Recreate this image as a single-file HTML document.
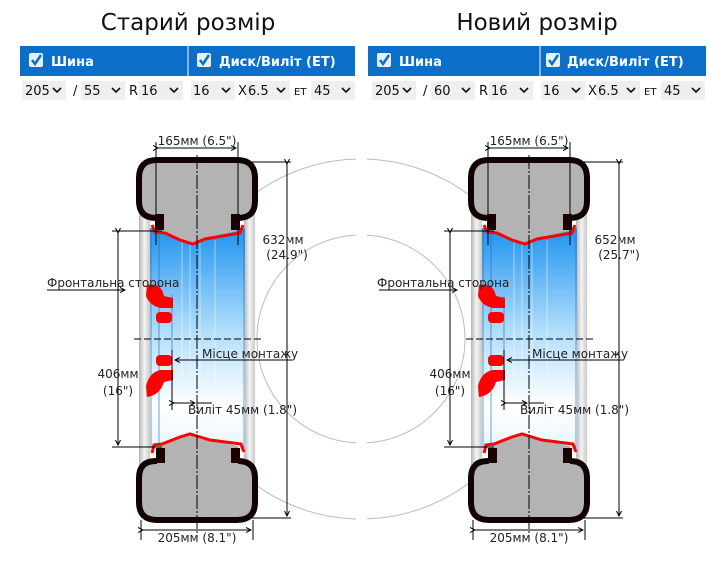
<!DOCTYPE html>
<html><head><meta charset="utf-8"><style>
body{margin:0;background:#fff;width:723px;height:561px;overflow:hidden;font-family:"Liberation Sans","DejaVu Sans",sans-serif}
svg text{font-family:"DejaVu Sans","Liberation Sans",sans-serif}
</style></head><body>
<svg width="723" height="561" viewBox="0 0 723 561" xmlns="http://www.w3.org/2000/svg">
<defs>
<linearGradient id="blue" x1="0" y1="0" x2="0" y2="1">
<stop offset="0" stop-color="#1f93ef"/><stop offset="0.45" stop-color="#aedcfb"/><stop offset="0.8" stop-color="#ffffff"/><stop offset="1" stop-color="#e8f4ff"/></linearGradient>
<linearGradient id="side" x1="0" y1="0" x2="1" y2="0">
<stop offset="0" stop-color="#b5b5b5"/><stop offset="0.5" stop-color="#f4f4f4"/><stop offset="1" stop-color="#c8c8c8"/></linearGradient>
<marker id="ar" markerWidth="6" markerHeight="6" refX="5" refY="3" orient="auto"><path d="M0,0.5 L5,3 L0,5.5" fill="none" stroke="#000" stroke-width="1"/></marker>
<g id="wheel">
 <rect x="139" y="200" width="11" height="280" fill="url(#side)"/>
 <rect x="244" y="200" width="11" height="280" fill="url(#side)"/>
 <rect x="150" y="228" width="95" height="222" fill="url(#blue)"/>
 <g stroke="#1a6ec8" stroke-width="0.8" opacity="0.8">
  <line x1="151" y1="230" x2="151" y2="448"/><line x1="244" y1="230" x2="244" y2="448"/>
  <line x1="159" y1="235" x2="159" y2="445"/><line x1="172" y1="295" x2="172" y2="390"/>
 </g>
 <g stroke="#fff" stroke-width="0.8" opacity="0.6">
  <line x1="182" y1="240" x2="182" y2="440"/><line x1="190" y1="242" x2="190" y2="438"/><line x1="200" y1="242" x2="200" y2="438"/><line x1="215" y1="240" x2="215" y2="440"/>
 </g>
 <path d="M157,231 L157,218 L156,218 Q139,218 139,201 L139,178 Q139,160 157,160 L237,160 Q255,160 255,178 L255,201 Q255,218 238,218 L238,231 L205,238 L193,244 L180,240 L165,232 Z" fill="#b3b3b3"/>
 <path d="M157,218 L156,218 Q139,218 139,201 L139,178 Q139,160 157,160 L237,160 Q255,160 255,178 L255,201 Q255,218 238,218" fill="none" stroke="#120000" stroke-width="6"/>
 <rect x="155" y="214" width="9" height="16" fill="#1a0000"/><rect x="231" y="214" width="9" height="16" fill="#1a0000"/>
 <path d="M157,448 L157,461 L156,461 Q139,461 139,478 L139,502 Q139,520 157,520 L237,520 Q255,520 255,502 L255,478 Q255,461 238,461 L238,446 L210,440 L190,434 L180,437 L162,444 Z" fill="#b3b3b3"/>
 <path d="M157,461 L156,461 Q139,461 139,478 L139,502 Q139,520 157,520 L237,520 Q255,520 255,502 L255,478 Q255,461 238,461" fill="none" stroke="#120000" stroke-width="6"/>
 <rect x="156" y="448" width="9" height="15" fill="#1a0000"/><rect x="231" y="448" width="9" height="15" fill="#1a0000"/>
 <polyline points="152,225 155,232 165,233 180,240 193,244 205,239 240,233 243,225" fill="none" stroke="#f00" stroke-width="3"/>
 <polyline points="152,453 154,445 162,444 180,437 190,434 200,437 210,440 241,444 244,452" fill="none" stroke="#f00" stroke-width="3"/>
 <path d="M147,285 Q161,282 164,296 L173,298 L173,308 L161,308 Q150,306 146,296 Z" fill="#f00"/>
 <rect x="156" y="312" width="16" height="11" rx="4" fill="#f00"/>
 <rect x="156" y="355" width="16" height="11" rx="4" fill="#f00"/>
 <path d="M160,370 L173,370 L173,380 L164,382 Q160,395 147,397 L146,386 Q149,373 160,370 Z" fill="#f00"/>
 <line x1="197" y1="155" x2="197" y2="540" stroke="#000" stroke-width="1" stroke-dasharray="14,2,2,2"/>
 <line x1="134" y1="339" x2="262" y2="339" stroke="#000" stroke-width="1" stroke-dasharray="7,3"/>
 <line x1="172" y1="350" x2="172" y2="410" stroke="#000" stroke-width="1"/>
 <g stroke="#000" stroke-width="1" fill="none">
  <line x1="156" y1="142" x2="156" y2="245"/><line x1="238" y1="142" x2="238" y2="245"/>
  <line x1="158" y1="148" x2="236" y2="148" marker-start="url(#ar)" marker-end="url(#ar)"/>
  <line x1="240" y1="162" x2="291" y2="162"/><line x1="240" y1="518" x2="291" y2="518"/>
  <line x1="287" y1="164" x2="287" y2="516" marker-start="url(#ar)" marker-end="url(#ar)"/>
  <line x1="112" y1="231" x2="162" y2="231"/><line x1="112" y1="447" x2="162" y2="447"/>
  <line x1="118" y1="233" x2="118" y2="445" marker-start="url(#ar)" marker-end="url(#ar)"/>
  <line x1="47" y1="290" x2="125" y2="290" marker-end="url(#ar)"/>
  <line x1="292" y1="360" x2="175" y2="360" marker-end="url(#ar)"/>
  <line x1="174" y1="403" x2="195" y2="403" marker-start="url(#ar)" marker-end="url(#ar)"/>
  <line x1="197" y1="403" x2="212" y2="403"/>
  <line x1="141" y1="520" x2="141" y2="540"/><line x1="253" y1="520" x2="253" y2="540"/>
  <line x1="143" y1="530" x2="251" y2="530" marker-start="url(#ar)" marker-end="url(#ar)"/>
 </g>
</g>
</defs>
<circle cx="361" cy="339" r="180" fill="none" stroke="#bbb" stroke-width="1"/>
<circle cx="361" cy="339" r="104" fill="none" stroke="#bbb" stroke-width="1"/>
<rect x="356" y="150" width="11" height="95" fill="#fff"/>
<rect x="356" y="435" width="11" height="95" fill="#fff"/>
<use href="#wheel"/>
<use href="#wheel" transform="translate(332,0)"/>

<text x="188" y="30" font-size="23" text-anchor="middle" fill="#111">Старий розмір</text>
<text x="537" y="30" font-size="23" text-anchor="middle" fill="#111">Новий розмір</text>

<g>
<rect x="20" y="46" width="335" height="30" fill="#0b6fc9"/><line x1="188" y1="46" x2="188" y2="76" stroke="#fff"/>
<rect x="368" y="46" width="338" height="30" fill="#0b6fc9"/><line x1="540" y1="46" x2="540" y2="76" stroke="#fff"/>
<g fill="#e8f0f8" stroke="none">
<rect x="29" y="53" width="14" height="14" rx="2"/><rect x="197" y="53" width="14" height="14" rx="2"/>
<rect x="377" y="53" width="14" height="14" rx="2"/><rect x="546" y="53" width="14" height="14" rx="2"/>
</g>
<g fill="none" stroke="#0b6fc9" stroke-width="2.5">
<polyline points="32,60 35,64 41,55"/><polyline points="200,60 203,64 209,55"/>
<polyline points="380,60 383,64 389,55"/><polyline points="549,60 552,64 558,55"/>
</g>
<g fill="#fff" font-size="13" font-weight="bold">
<text x="51" y="66">Шина</text><text x="219" y="66">Диск/Виліт (ЕТ)</text>
<text x="399" y="66">Шина</text><text x="567" y="66">Диск/Виліт (ЕТ)</text>
</g>
</g>
<g>
<g fill="#efefef">
<rect x="22" y="81" width="44" height="19"/><rect x="81" y="81" width="44" height="19"/><rect x="139" y="81" width="44" height="19"/>
<rect x="191" y="81" width="44" height="19"/><rect x="246" y="81" width="44" height="19"/><rect x="311" y="81" width="44" height="19"/>
</g>
<g fill="#111" font-size="13" style="font-family:'Liberation Sans',sans-serif">
<text x="25" y="95">205</text><text x="73" y="95">/</text><text x="84" y="95">55</text>
<text x="129" y="95">R</text><text x="141" y="95">16</text>
<text x="193" y="95">16</text><text x="238" y="95">X</text><text x="248" y="95">6.5</text>
<text x="294" y="95" font-size="10">ET</text><text x="314" y="95">45</text>
</g>
<g fill="none" stroke="#111" stroke-width="1.6">
<polyline points="53,88 57,92 61,88"/><polyline points="112,88 116,92 120,88"/><polyline points="170,88 174,92 178,88"/>
<polyline points="222,88 226,92 230,88"/><polyline points="277,88 281,92 285,88"/><polyline points="342,88 346,92 350,88"/>
</g>
</g>
<g transform="translate(350,0)">
<g fill="#efefef">
<rect x="22" y="81" width="44" height="19"/><rect x="81" y="81" width="44" height="19"/><rect x="139" y="81" width="44" height="19"/>
<rect x="191" y="81" width="44" height="19"/><rect x="246" y="81" width="44" height="19"/><rect x="311" y="81" width="44" height="19"/>
</g>
<g fill="#111" font-size="13" style="font-family:'Liberation Sans',sans-serif">
<text x="25" y="95">205</text><text x="73" y="95">/</text><text x="84" y="95">60</text>
<text x="129" y="95">R</text><text x="141" y="95">16</text>
<text x="193" y="95">16</text><text x="238" y="95">X</text><text x="248" y="95">6.5</text>
<text x="294" y="95" font-size="10">ET</text><text x="314" y="95">45</text>
</g>
<g fill="none" stroke="#111" stroke-width="1.6">
<polyline points="53,88 57,92 61,88"/><polyline points="112,88 116,92 120,88"/><polyline points="170,88 174,92 178,88"/>
<polyline points="222,88 226,92 230,88"/><polyline points="277,88 281,92 285,88"/><polyline points="342,88 346,92 350,88"/>
</g>
</g>

<g font-size="12" fill="#222">
<text x="197" y="145" text-anchor="middle">165мм (6.5")</text>
<text x="283" y="244" text-anchor="middle">632мм</text>
<text x="287" y="259" text-anchor="middle">(24.9")</text>
<text x="47" y="287">Фронтальна сторона</text>
<text x="202" y="358">Місце монтажу</text>
<text x="118" y="378" text-anchor="middle">406мм</text>
<text x="118" y="395" text-anchor="middle">(16")</text>
<text x="188" y="414">Виліт 45мм (1.8")</text>
<text x="197" y="542" text-anchor="middle">205мм (8.1")</text>
</g>
<g font-size="12" fill="#222" transform="translate(332,0)">
<text x="197" y="145" text-anchor="middle">165мм (6.5")</text>
<text x="283" y="244" text-anchor="middle">652мм</text>
<text x="287" y="259" text-anchor="middle">(25.7")</text>
<text x="45" y="287">Фронтальна сторона</text>
<text x="200" y="358">Місце монтажу</text>
<text x="118" y="378" text-anchor="middle">406мм</text>
<text x="118" y="395" text-anchor="middle">(16")</text>
<text x="188" y="414">Виліт 45мм (1.8")</text>
<text x="197" y="542" text-anchor="middle">205мм (8.1")</text>
</g>
</svg>
</body></html>
